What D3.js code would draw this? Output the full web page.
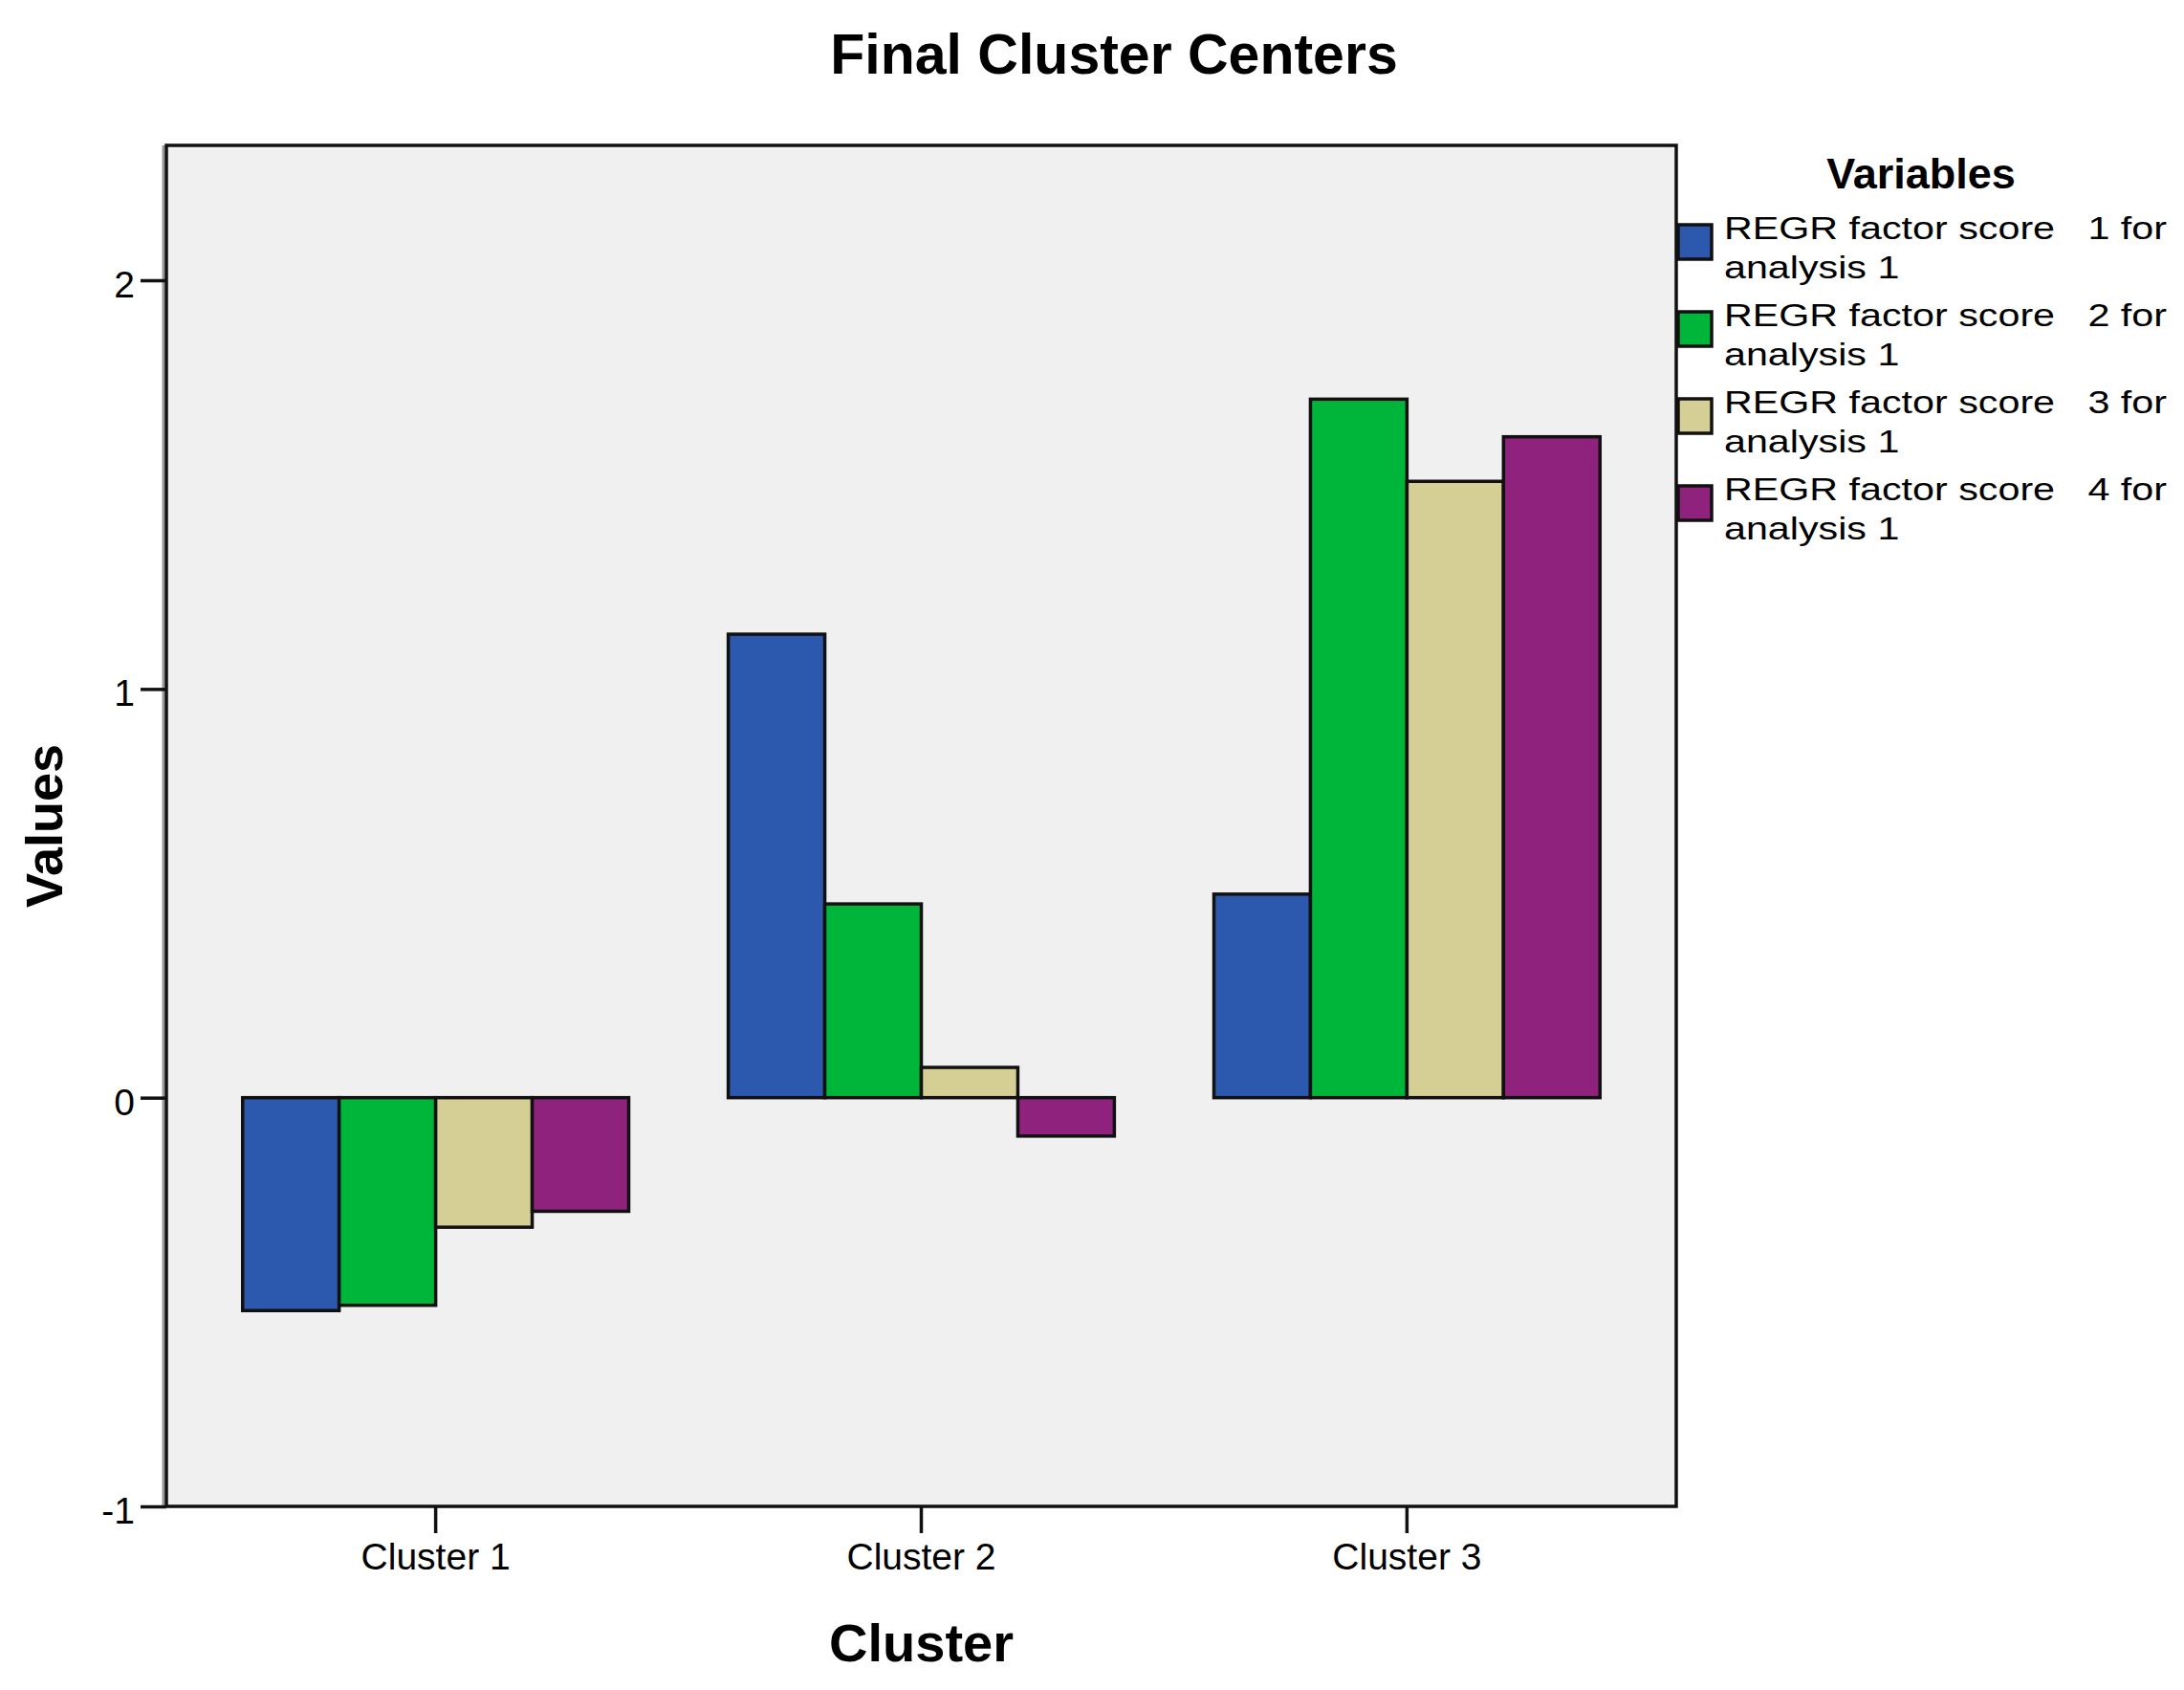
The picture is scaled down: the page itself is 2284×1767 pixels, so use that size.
<!DOCTYPE html>
<html>
<head>
<meta charset="utf-8">
<script src="https://cdn.jsdelivr.net/npm/d3@7"></script>
<style>
  body { margin: 0; background: #fff; }
  text { font-family: "Liberation Sans", Arial, sans-serif; fill: #000; }
</style>
</head>
<body>
<svg id="chart"></svg>
<script>
// data
const clusters = ["Cluster 1", "Cluster 2", "Cluster 3"];
const variables = [
    "REGR factor score   1 for",
    "REGR factor score   2 for",
    "REGR factor score   3 for",
    "REGR factor score   4 for"
];
const score1 = [-0.521, 1.134, 0.498];
const score2 = [-0.508, 0.474, 1.709];
const score3 = [-0.317, 0.074, 1.508];
const score4 = [-0.278, -0.094, 1.617];
const yTicks = [-1, 0, 1, 2];
const colors = ["#2c58ae", "#00b63a", "#d5cf96", "#8e227d"];

const series = [score1, score2, score3, score4];

const W = 2284, H = 1767;
const plot = { left: 174, right: 1753, top: 152, bottom: 1575 };

const svg = d3.select("#chart")
    .attr("width", W)
    .attr("height", H);

svg.append("rect").attr("width", W).attr("height", H).attr("fill", "#fff");

// scales
const x = d3.scaleBand()
    .domain(clusters)
    .range([plot.left, plot.right])
    .paddingInner(0.205)
    .paddingOuter(0.157);

const x1 = d3.scaleBand()
    .domain(d3.range(variables.length))
    .range([0, x.bandwidth()]);

const y = d3.scaleLinear()
    .domain([-1, 2.33])
    .range([plot.bottom, plot.top]);

// plot background
svg.append("rect")
    .attr("x", plot.left)
    .attr("y", plot.top)
    .attr("width", plot.right - plot.left)
    .attr("height", plot.bottom - plot.top)
    .attr("fill", "#f0f0f0");

// bars
const rows = [];
clusters.forEach((c, i) => {
    series.forEach((s, j) => rows.push({ cluster: c, k: j, value: s[i] }));
});

svg.append("g")
    .selectAll("rect")
    .data(rows)
    .enter()
    .append("rect")
    .attr("x", d => x(d.cluster) + x1(d.k))
    .attr("y", d => y(Math.max(0, d.value)))
    .attr("width", x1.bandwidth())
    .attr("height", d => Math.abs(y(d.value) - y(0)))
    .attr("fill", d => colors[d.k])
    .attr("stroke", "#111")
    .attr("stroke-width", 3.5);

// frame, grey shade on the left
svg.append("line")
    .attr("x1", plot.left - 3).attr("x2", plot.left - 3)
    .attr("y1", plot.top).attr("y2", plot.bottom)
    .attr("stroke", "#999").attr("stroke-width", 3);

svg.append("rect")
    .attr("x", plot.left)
    .attr("y", plot.top)
    .attr("width", plot.right - plot.left)
    .attr("height", plot.bottom - plot.top)
    .attr("fill", "none")
    .attr("stroke", "#111")
    .attr("stroke-width", 3.5);

// axes
const yAxis = d3.axisLeft(y)
    .tickValues(yTicks)
    .tickSize(27)
    .tickPadding(6)
    .tickFormat(d => String(d));

const gy = svg.append("g")
    .attr("transform", `translate(${plot.left},0)`)
    .call(yAxis);
gy.select(".domain").remove();
gy.selectAll(".tick line").attr("stroke", "#111").attr("stroke-width", 3.5);
gy.selectAll(".tick text")
    .attr("font-size", 39)
    .attr("font-family", "Liberation Sans, Arial, sans-serif")
    .attr("dy", "0.45em");

const xAxis = d3.axisBottom(x)
    .tickSize(28)
    .tickPadding(10);

const gx = svg.append("g")
    .attr("transform", `translate(0,${plot.bottom})`)
    .call(xAxis);
gx.select(".domain").remove();
gx.selectAll(".tick line").attr("stroke", "#111").attr("stroke-width", 3.5);
gx.selectAll(".tick text")
    .attr("font-size", 39)
    .attr("font-family", "Liberation Sans, Arial, sans-serif");

// titles
svg.append("text")
    .attr("x", 1165)
    .attr("y", 77)
    .attr("text-anchor", "middle")
    .attr("font-size", 59)
    .attr("font-weight", "bold")
    .text("Final Cluster Centers");

svg.append("text")
    .attr("x", (plot.left + plot.right) / 2)
    .attr("y", 1737)
    .attr("text-anchor", "middle")
    .attr("font-size", 56)
    .attr("font-weight", "bold")
    .text("Cluster");

svg.append("text")
    .attr("transform", `translate(65,${(plot.top + plot.bottom) / 2}) rotate(-90)`)
    .attr("text-anchor", "middle")
    .attr("font-size", 54)
    .attr("font-weight", "bold")
    .text("Values");

// legend
const legend = svg.append("g");

legend.append("text")
    .attr("x", 2009)
    .attr("y", 197)
    .attr("text-anchor", "middle")
    .attr("font-size", 45)
    .attr("font-weight", "bold")
    .text("Variables");

const item = legend.selectAll("g.item")
    .data(variables)
    .enter()
    .append("g")
    .attr("class", "item")
    .attr("transform", (d, i) => `translate(0,${i * 91})`);

item.append("rect")
    .attr("x", 1755)
    .attr("y", 235)
    .attr("width", 35)
    .attr("height", 36)
    .attr("fill", (d, i) => colors[i])
    .attr("stroke", "#111")
    .attr("stroke-width", 3.5);

const label = item.append("text")
    .attr("transform", "translate(1803,250) scale(1.25,1)")
    .attr("font-size", 33)
    .style("white-space", "pre");

label.append("tspan").attr("x", 0).attr("y", 0).text(d => d);
label.append("tspan").attr("x", 0).attr("y", 41).text("analysis 1");
</script>
</body>
</html>
